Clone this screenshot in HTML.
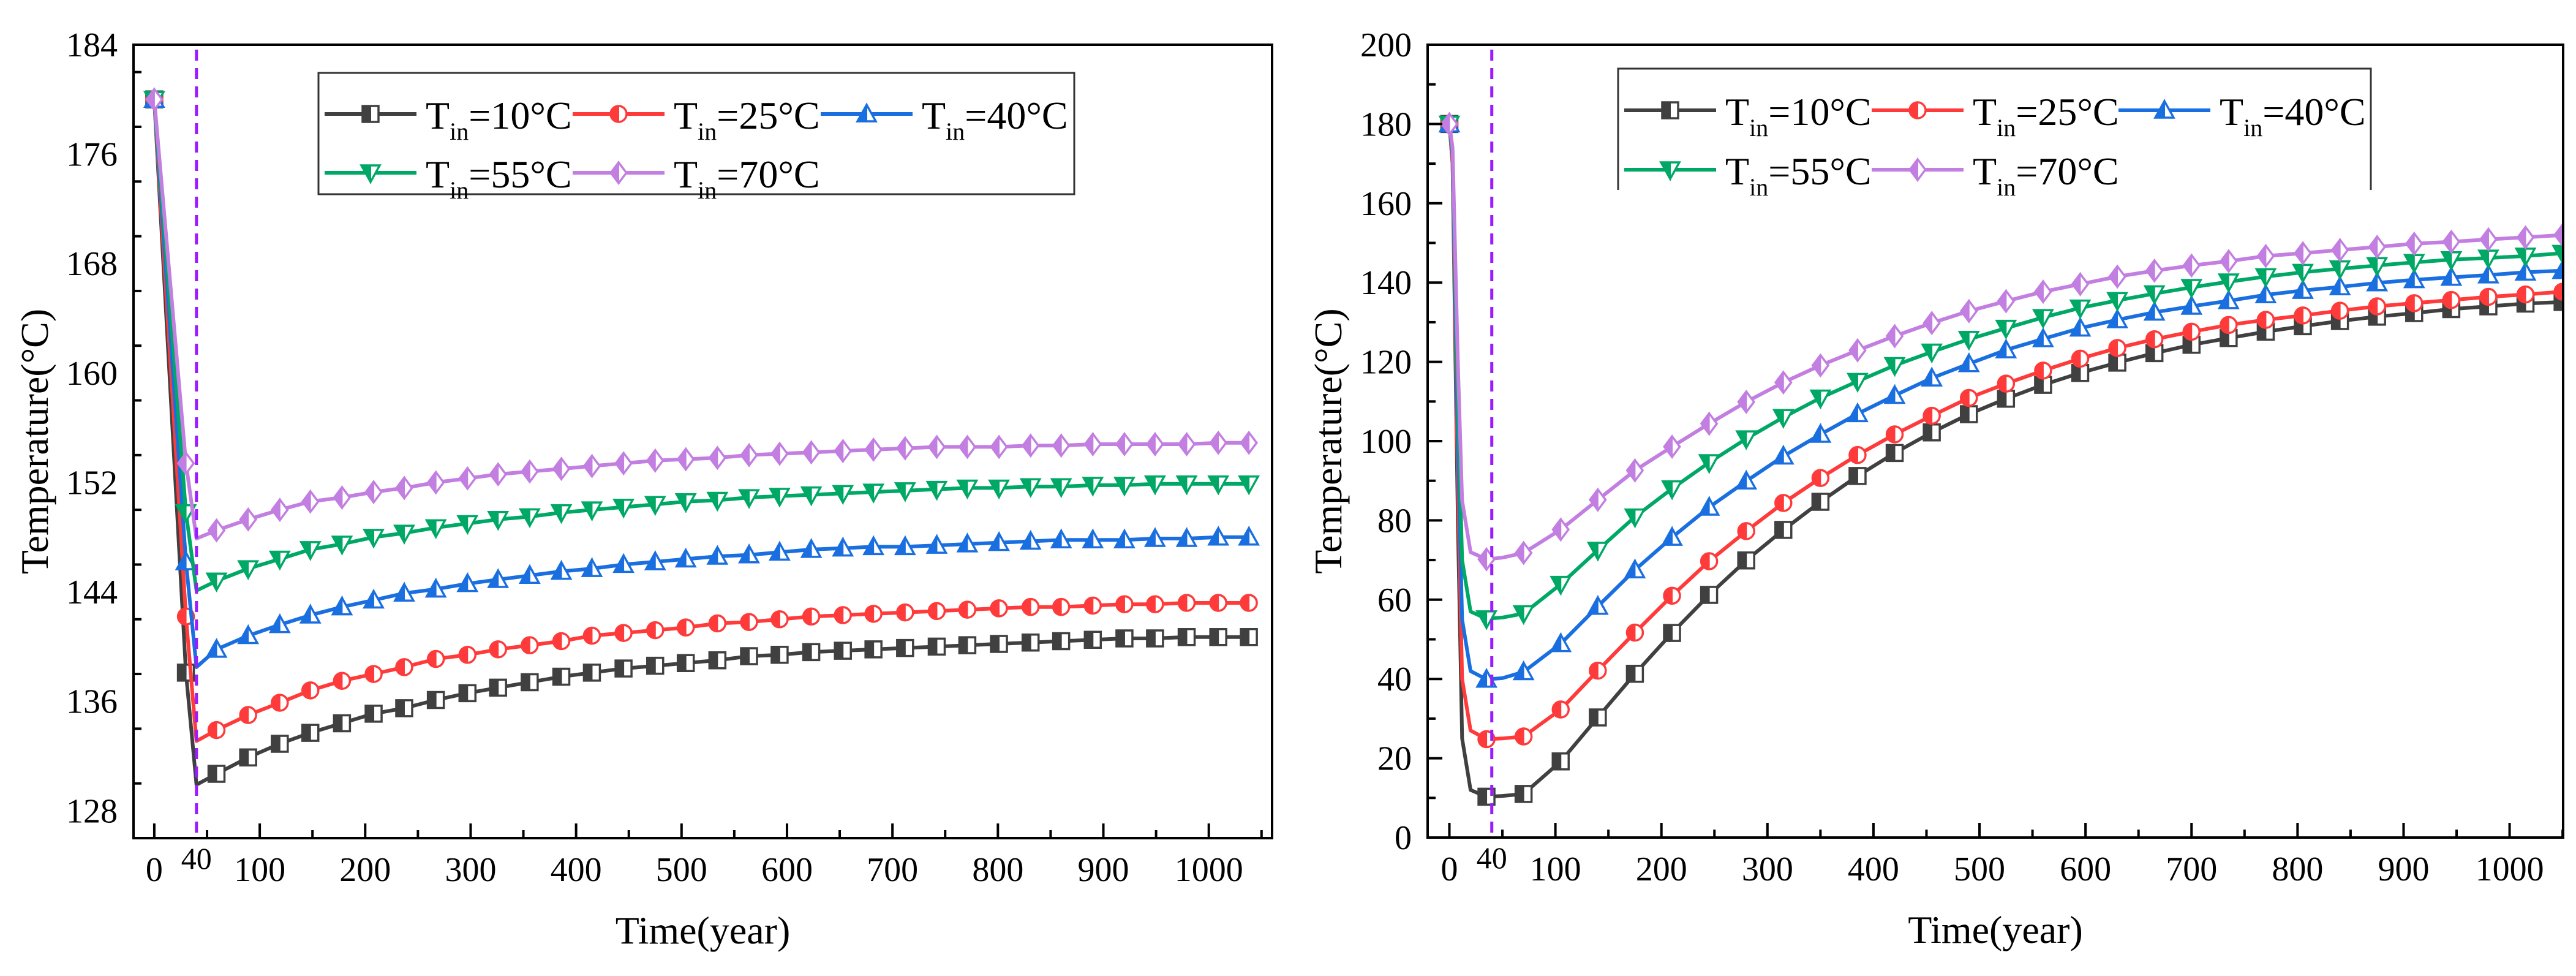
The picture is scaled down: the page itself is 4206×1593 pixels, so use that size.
<!DOCTYPE html>
<html><head><meta charset="utf-8">
<style>
html,body{margin:0;padding:0;background:#fff;}
svg{display:block;font-family:"Liberation Serif","DejaVu Serif",serif;}
</style></head>
<body>
<svg id="fig" width="4206" height="1593" viewBox="0 0 4206 1593" xmlns="http://www.w3.org/2000/svg" font-family="Liberation Serif, serif">
<rect width="4206" height="1593" fill="#fff"/>
<g id="leftChart"></g>
<g id="rightChart"></g>
</svg>
<script>
// ---------- data ----------
const seriesLabels = ["10", "25", "40", "55", "70"];
const seriesColors = ["#404040", "#ff3a3a", "#1a6fe0", "#00a866", "#c27ee0"];
const markerShapes = ["square", "circle", "triUp", "triDown", "diamond"];

// Left chart
const leftYears = [0,30,40,59,89,119,148,178,208,237,267,297,326,356,386,415,445,475,504,534,564,593,623,653,682,712,742,771,801,831,860,890,920,949,979,1009,1038];
const leftMarkerSkip = [40];
const leftBlack = [180,138.1,129.9,130.7,131.9,132.9,133.7,134.4,135.1,135.5,136.1,136.6,137.0,137.4,137.8,138.1,138.4,138.6,138.8,139.0,139.3,139.4,139.6,139.7,139.8,139.9,140.0,140.1,140.2,140.3,140.4,140.5,140.6,140.6,140.7,140.7,140.7];
const leftRed = [180,142.2,133.1,133.9,135.0,135.9,136.8,137.5,138.0,138.5,139.1,139.4,139.8,140.1,140.4,140.8,141.0,141.2,141.4,141.7,141.8,142.0,142.2,142.3,142.4,142.5,142.6,142.7,142.8,142.9,142.9,143.0,143.1,143.1,143.2,143.2,143.2];
const leftBlue = [180,146.2,138.5,139.8,140.8,141.6,142.3,142.9,143.4,143.9,144.2,144.6,144.9,145.2,145.5,145.7,146.0,146.2,146.4,146.6,146.7,146.9,147.1,147.2,147.3,147.3,147.4,147.5,147.6,147.7,147.8,147.8,147.8,147.9,147.9,148.0,148.0];
const leftGreen = [180,149.8,144.1,144.8,145.7,146.4,147.1,147.5,148.0,148.3,148.7,149.0,149.3,149.5,149.8,150.0,150.2,150.4,150.6,150.7,150.9,151.0,151.1,151.2,151.3,151.4,151.5,151.6,151.6,151.7,151.7,151.8,151.8,151.9,151.9,151.9,151.9];
const leftPurple = [180,153.4,147.9,148.5,149.3,150.0,150.6,150.9,151.3,151.6,152.0,152.3,152.6,152.8,153.0,153.2,153.4,153.6,153.7,153.8,154.0,154.1,154.2,154.3,154.4,154.5,154.6,154.6,154.6,154.7,154.7,154.8,154.8,154.8,154.8,154.9,154.9];
const leftXTicks = [0,100,200,300,400,500,600,700,800,900,1000];
const leftYTicks = [128,136,144,152,160,168,176,184];

// Right chart
const rightYears = [0,3,8,12,20,35,50,70,105,140,175,210,245,280,315,350,385,420,455,490,525,560,595,630,665,700,735,770,805,840,875,910,945,980,1015,1050];
const rightMarkerYears = [0,35,70,105,140,175,210,245,280,315,350,385,420,455,490,525,560,595,630,665,700,735,770,805,840,875,910,945,980,1015,1050];
const rightBlack = [180,170,80,25,12,10.3,10.5,11.0,19.2,30.3,41.3,51.6,61.2,69.9,77.6,84.7,91.2,97.0,102.2,106.8,110.7,114.2,117.2,119.8,122.2,124.3,126.0,127.6,129.0,130.3,131.4,132.3,133.3,134.0,134.7,135.1];
const rightRed = [180,170,90,40,27,24.8,25.0,25.5,32.3,42.1,51.7,61.0,69.7,77.3,84.4,90.7,96.5,101.7,106.4,110.9,114.5,117.8,120.8,123.5,125.7,127.6,129.3,130.6,131.7,132.9,134.0,134.8,135.6,136.4,137.0,137.7];
const rightBlue = [180,172,100,55,42,39.9,40.2,41.8,48.9,58.3,67.5,75.7,83.3,89.9,96.2,101.7,106.9,111.5,115.9,119.5,123.0,125.8,128.5,130.6,132.5,134.0,135.4,136.9,138.0,138.9,139.9,140.7,141.3,141.9,142.6,143.0];
const rightGreen = [180,173,110,70,57,55.2,55.5,56.5,63.9,72.5,80.9,88.0,94.6,100.6,106.0,110.9,115.1,119.1,122.5,125.7,128.5,131.2,133.6,135.5,137.2,138.8,140.2,141.5,142.6,143.5,144.3,145.1,145.8,146.2,146.7,147.4];
const rightPurple = [180,174,120,85,72,70.2,70.6,71.8,77.7,85.2,92.6,98.6,104.4,109.9,114.8,119.1,122.9,126.5,129.8,132.8,135.3,137.7,139.6,141.5,143.0,144.3,145.4,146.7,147.4,148.2,149.0,149.8,150.3,150.9,151.4,152.0];
const rightXTicks = [0,100,200,300,400,500,600,700,800,900,1000];
const rightYTicks = [0,20,40,60,80,100,120,140,160,180,200];

const NS = "http://www.w3.org/2000/svg";
function mk(parent, tag, attrs, text) {
  const e = document.createElementNS(NS, tag);
  for (const k in attrs) e.setAttribute(k, attrs[k]);
  if (text !== undefined) e.textContent = text;
  parent.appendChild(e);
  return e;
}

function markerPaths(shape, cx, cy, r) {
  if (shape === "square") {
    return [`M${cx-r},${cy-r}H${cx+r}V${cy+r}H${cx-r}Z`, `M${cx-r},${cy-r}H${cx}V${cy+r}H${cx-r}Z`];
  } else if (shape === "circle") {
    return [`M${cx},${cy-r}A${r},${r} 0 1 1 ${cx},${cy+r}A${r},${r} 0 1 1 ${cx},${cy-r}Z`, `M${cx},${cy-r}A${r},${r} 0 0 0 ${cx},${cy+r}Z`];
  } else if (shape === "triUp") {
    const h = r * 1.15;
    return [`M${cx},${cy-h}L${cx+h},${cy+h*0.8}L${cx-h},${cy+h*0.8}Z`, `M${cx},${cy-h}L${cx},${cy+h*0.8}L${cx-h},${cy+h*0.8}Z`];
  } else if (shape === "triDown") {
    const h = r * 1.15;
    return [`M${cx},${cy+h}L${cx+h},${cy-h*0.8}L${cx-h},${cy-h*0.8}Z`, `M${cx},${cy+h}L${cx},${cy-h*0.8}L${cx-h},${cy-h*0.8}Z`];
  } else {
    const h = r * 1.3;
    return [`M${cx},${cy-h}L${cx+h*0.75},${cy}L${cx},${cy+h}L${cx-h*0.75},${cy}Z`, `M${cx},${cy-h}L${cx},${cy+h}L${cx-h*0.75},${cy}Z`];
  }
}

function drawMarker(g, shape, color, cx, cy, r) {
  const p = markerPaths(shape, cx, cy, r);
  const o = mk(g, "path", {d: p[0], fill: "#fff", stroke: color, "stroke-width": 3.5});
  
  
  const h = mk(g, "path", {d: p[1], fill: color, stroke: color, "stroke-width": 2});
  
  
}

function drawChart(cfg) {
  const g = document.getElementById(cfg.id);
  const X = v => cfg.px0 + (v - cfg.xmin) / (cfg.xmax - cfg.xmin) * (cfg.px1 - cfg.px0);
  const Y = v => cfg.py1 - (v - cfg.ymin) / (cfg.ymax - cfg.ymin) * (cfg.py1 - cfg.py0);
  const clipId = cfg.id + "-clip";
  const defs = mk(g, "defs", {});
  const cp = mk(defs, "clipPath", {id: clipId});
  mk(cp, "rect", {x: cfg.px0, y: cfg.py0, width: cfg.px1 - cfg.px0, height: cfg.py1 - cfg.py0});

  const plot = mk(g, "g", {"clip-path": `url(#${clipId})`});
  
  
  cfg.series.forEach((vals, si) => {
    const sg = mk(plot, "g", {});
    
    
    const d = vals.map((v, i) => (i ? "L" : "M") + X(cfg.years[i]).toFixed(1) + "," + Y(v).toFixed(1)).join("");
    const ln = mk(sg, "path", {d, fill: "none", stroke: seriesColors[si], "stroke-width": 6, "stroke-linejoin": "round"});
    
    
    vals.forEach((v, i) => {
      if (!cfg.isMarker(cfg.years[i])) return;
      drawMarker(sg, markerShapes[si], seriesColors[si], X(cfg.years[i]), Y(v), 13);
    });
  });

  const dl = mk(g, "line", {x1: X(40), x2: X(40), y1: cfg.py0 + 8, y2: cfg.py1, stroke: "#9b1cff", "stroke-width": 5, "stroke-dasharray": "18 12"});
  
  

  const fr = mk(g, "rect", {x: cfg.px0, y: cfg.py0, width: cfg.px1 - cfg.px0, height: cfg.py1 - cfg.py0, fill: "none", stroke: "#000", "stroke-width": 4});
  
  

  const xa = mk(g, "g", {});
  
  
  for (let v = 0; v <= cfg.xmax; v += 50) {
    const major = v % 100 === 0;
    mk(xa, "line", {x1: X(v), x2: X(v), y1: cfg.py1, y2: cfg.py1 - (major ? 24 : 13), stroke: "#000", "stroke-width": 4});
  }
  cfg.xTicks.forEach(v => {
    const t = mk(xa, "text", {x: X(v), y: cfg.py1 + 70, "text-anchor": "middle", "font-size": 56}, String(v));
    
    
  });
  const t40 = mk(xa, "text", {x: X(40), y: cfg.py1 + 50, "text-anchor": "middle", "font-size": 50}, "40");
  
  
  const xt = mk(xa, "text", {x: (cfg.px0 + cfg.px1) / 2, y: cfg.py1 + 172, "text-anchor": "middle", "font-size": 64}, "Time(year)");
  
  

  const ya = mk(g, "g", {});
  
  
  for (let v = cfg.ymin; v <= cfg.ymax + 1e-6; v += cfg.yMinor) {
    if (v < cfg.yTicks[0] - 1e-6) continue;
    const major = cfg.yTicks.some(t => Math.abs(t - v) < 1e-6);
    mk(ya, "line", {x1: cfg.px0, x2: cfg.px0 + (major ? 24 : 13), y1: Y(v), y2: Y(v), stroke: "#000", "stroke-width": 4});
  }
  cfg.yTicks.forEach(v => {
    const t = mk(ya, "text", {x: cfg.px0 - 26, y: Y(v) + 19, "text-anchor": "end", "font-size": 56}, String(v));
    
    
  });
  const cy = (cfg.py0 + cfg.py1) / 2;
  const yt = mk(ya, "text", {x: cfg.ytx, y: cy, "text-anchor": "middle", "font-size": 64, transform: `rotate(-90 ${cfg.ytx} ${cy})`}, "Temperature(°C)");
  
  

  const lg = mk(g, "g", {});
  
  
  const L = cfg.legend;
  if (L.closed) {
    mk(lg, "rect", {x: L.x0, y: L.y0, width: L.x1 - L.x0, height: L.y1 - L.y0, fill: "#fff", stroke: "#333", "stroke-width": 3});
  } else {
    mk(lg, "rect", {x: L.x0, y: L.y0, width: L.x1 - L.x0, height: L.y1 - L.y0, fill: "#fff", stroke: "none"});
    mk(lg, "path", {d: `M${L.x0},${L.y1}V${L.y0}H${L.x1}V${L.y1}`, fill: "none", stroke: "#333", "stroke-width": 3});
  }
  seriesLabels.forEach((lab, i) => {
    const row = i < 3 ? 0 : 1, col = i < 3 ? i : i - 3;
    const ly = L.rows[row], lx = L.cols[col];
    const e = mk(lg, "g", {});
    
    
    mk(e, "line", {x1: lx, x2: lx + 150, y1: ly, y2: ly, stroke: seriesColors[i], "stroke-width": 6});
    drawMarker(e, markerShapes[i], seriesColors[i], lx + 75, ly, 13);
    const t = mk(e, "text", {x: lx + 165, y: ly + 24, "font-size": 64});
    mk(t, "tspan", {}, "T");
    mk(t, "tspan", {dy: 18, "font-size": 40}, "in");
    mk(t, "tspan", {dy: -18}, "=" + lab + "°C");
  });
}

drawChart({
  id: "leftChart", px0: 218, px1: 2077, py0: 73, py1: 1368,
  xmin: -19.7, xmax: 1060, ymin: 126, ymax: 184, yMinor: 4,
  years: leftYears, isMarker: y => !leftMarkerSkip.includes(y),
  series: [leftBlack, leftRed, leftBlue, leftGreen, leftPurple],
  xTicks: leftXTicks, yTicks: leftYTicks, ytx: 78,
  legend: {x0: 520, y0: 119, x1: 1754, y1: 317, closed: true, rows: [186, 282], cols: [530, 935, 1340]}
});
drawChart({
  id: "rightChart", px0: 2331, px1: 4185, py0: 73, py1: 1367,
  xmin: -20.5, xmax: 1050.5, ymin: 0, ymax: 200, yMinor: 10,
  years: rightYears, isMarker: y => rightMarkerYears.includes(y),
  series: [rightBlack, rightRed, rightBlue, rightGreen, rightPurple],
  xTicks: rightXTicks, yTicks: rightYTicks, ytx: 2190,
  legend: {x0: 2642, y0: 112, x1: 3871, y1: 310, closed: false, rows: [180, 277], cols: [2652, 3056, 3459]}
});
</script>
</body></html>
